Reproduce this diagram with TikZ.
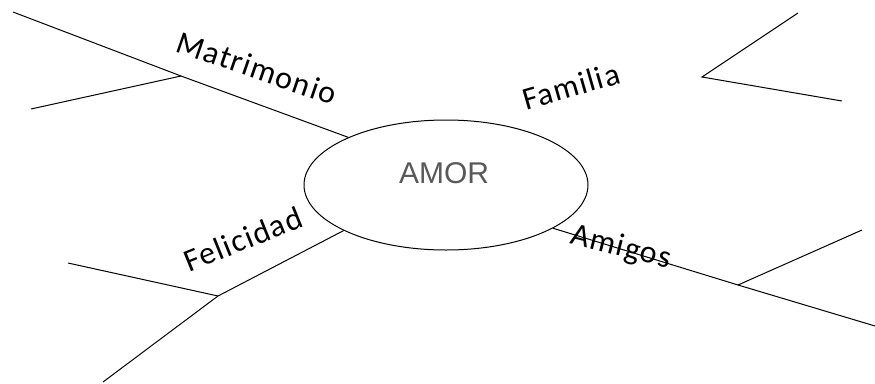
\documentclass[tikz,border=0pt]{standalone}
\usepackage{fontspec}
\setmainfont{Carlito}
\newfontfamily\amorfont{Liberation Sans}
\usetikzlibrary{calc,shapes.geometric,positioning}

\begin{document}
\begin{tikzpicture}[x=1pt,y=-1pt,line width=1pt]
  \useasboundingbox (0,0) rectangle (875,383);
  \node[ellipse,draw,minimum width=284pt,minimum height=130pt,inner sep=0pt] (amor) at (446,185) {};
  \node[font=\amorfont\fontsize{30}{32}\selectfont,text=black!65] (amortxt) at (444,173) {AMOR};
  % Matrimonio
  \coordinate (m1) at (13,12);
  \coordinate (m2) at (181,76);
  \coordinate (m3) at (31,109);
  \draw (amor.154) -- (m2) -- (m1);
  \draw (m2) -- (m3);
  \node[rotate=-19,font=\fontsize{32}{34}\selectfont\addfontfeature{LetterSpace=4}] (matrimonio) at (257,68) {Matrimonio};
  % Familia
  \coordinate (f1) at (798,13);
  \coordinate (f2) at (702,77);
  \coordinate (f3) at (842,101);
  \draw (f1) -- (f2) -- (f3);
  \node[rotate=16,font=\fontsize{32}{34}\selectfont\addfontfeature{LetterSpace=4}] (familia) at (571,86) {Familia};
  % Felicidad
  \coordinate (e1) at (103,382);
  \coordinate (e2) at (218,296);
  \coordinate (e3) at (68,263);
  \draw (amor.204) -- (e2) -- (e1);
  \draw (e2) -- (e3);
  \node[rotate=22,font=\fontsize{32}{34}\selectfont\addfontfeature{LetterSpace=4}] (felicidad) at (243,239) {Felicidad};
  % Amigos
  \coordinate (a1) at (875,326);
  \coordinate (a2) at (738,285);
  \coordinate (a3) at (862,230);
  \draw (amor.-22) -- (a2) -- (a1);
  \draw (a2) -- (a3);
  \node[rotate=-14,font=\fontsize{32}{34}\selectfont\addfontfeature{LetterSpace=4}] (amigos) at (621,248) {Amigos};
\end{tikzpicture}
\end{document}
